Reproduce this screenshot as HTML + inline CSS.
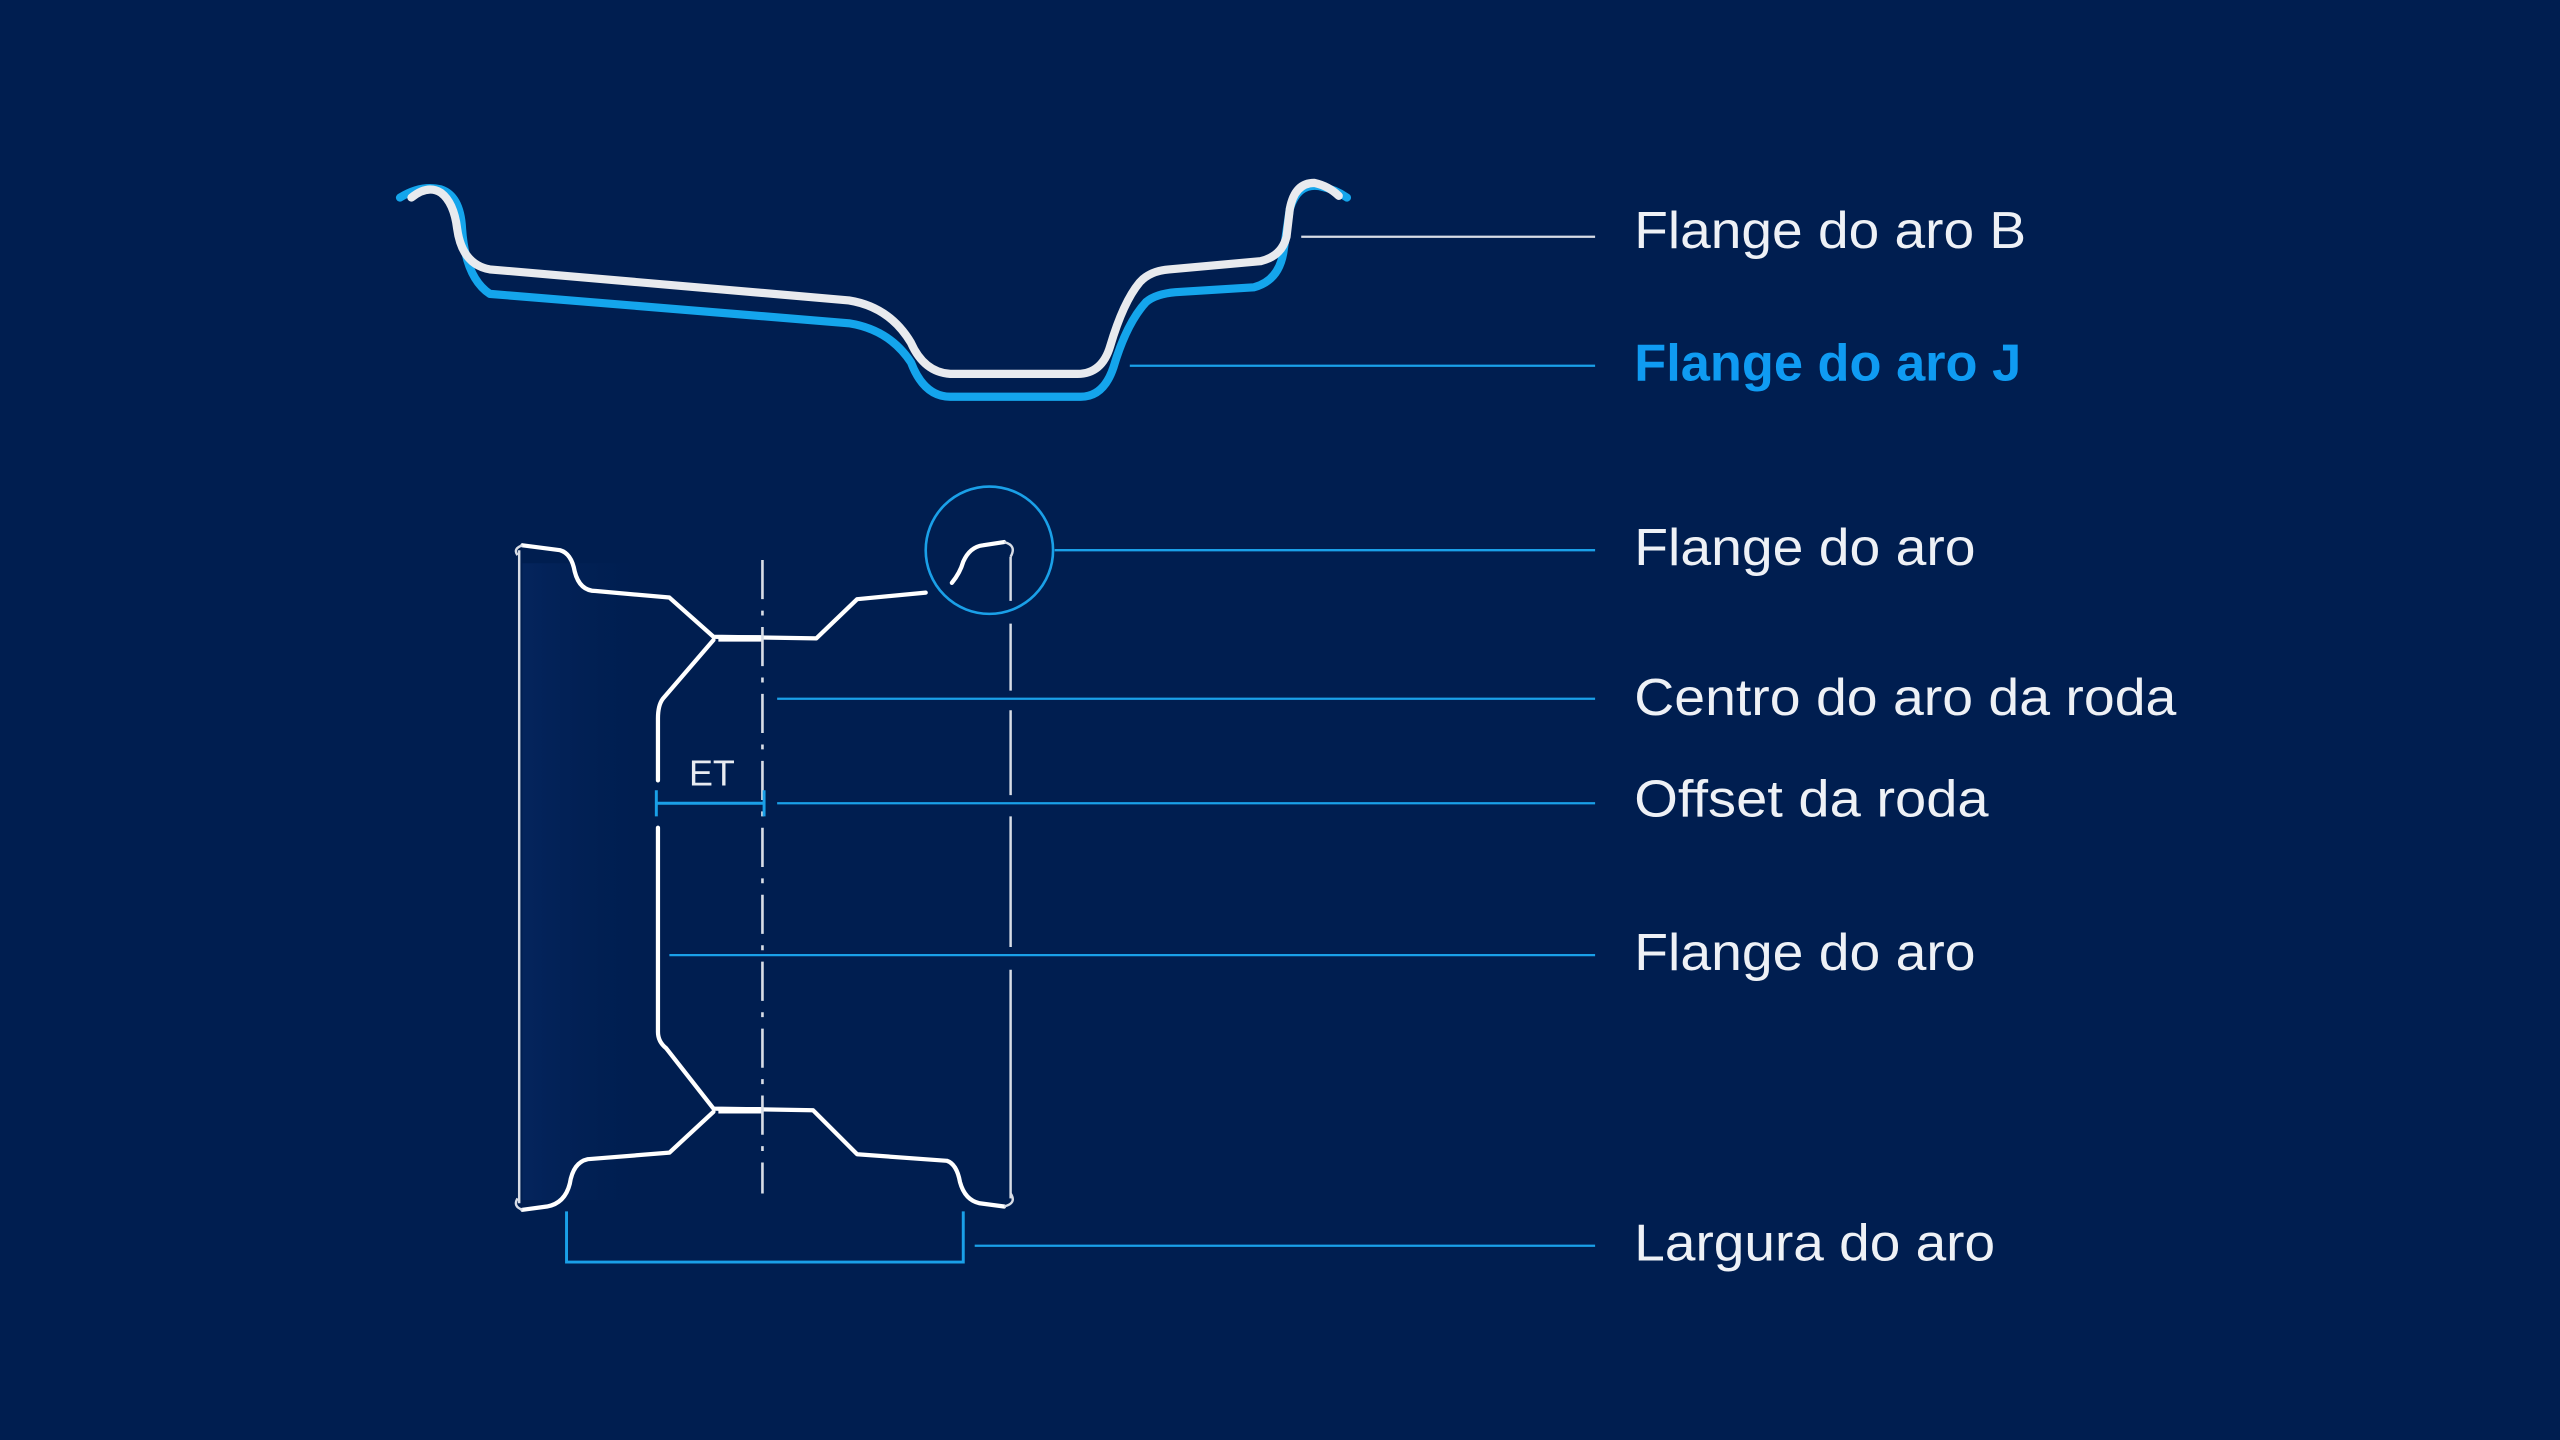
<!DOCTYPE html>
<html><head><meta charset="utf-8"><style>
html,body{margin:0;padding:0;background:#001e50;}
svg{display:block;}
text{font-family:"Liberation Sans",sans-serif;}
</style></head><body>
<svg width="2560" height="1440" viewBox="0 0 1568 882" xmlns="http://www.w3.org/2000/svg">
<defs>
<linearGradient id="g" x1="0" x2="1" y1="0" y2="0">
<stop offset="0" stop-color="#062762" stop-opacity="0.7"/>
<stop offset="1" stop-color="#001e50" stop-opacity="0"/>
</linearGradient>
</defs>
<rect width="1568" height="882" fill="#001e50"/>
<rect x="320" y="345" width="85" height="390" fill="url(#g)"/>

<path d="M245 121 Q258 113 270 116 Q282 120 283 140 Q285 170 300 180 L520 198 Q545 202 558 222 Q566 243 582 243 L662 243 Q676 243 682 225 Q690 198 702 185 Q708 180 720 179 L768 176 Q783 172 786 155 L790 128 Q795 112 808 114 Q818 116 825 121" fill="none" stroke="#14a5ec" stroke-width="5" stroke-linecap="round" stroke-linejoin="round"/>
<path d="M252 121 Q262 113 270 118 Q278 124 280 140 Q283 162 300 165 L520 184 Q545 188 558 210 Q566 228 582 229 L660 229 Q675 229 680 212 Q688 185 698 173 Q704 166 716 165 L772 160 Q785 157 788 145 L790 128 Q793 112 805 112 Q814 114 820 120" fill="none" stroke="#e8eaee" stroke-width="5" stroke-linecap="round" stroke-linejoin="round"/>

<g fill="none" stroke="#ffffff" stroke-width="2.6" stroke-linecap="round" stroke-linejoin="round">
<path d="M320 334 L343 337 Q350 339 352 350 Q355 362 365 362 L410 366 L437 390 L500 391 L525 367 L567 363"/>
<path d="M437 392 L406 428 Q403 432 403 440 L403 478"/>
<path d="M403 507 L403 632 Q403 638 408 642 L437 679 L498 680 L525 707 L580 711 Q586 713 588 724 Q591 735 600 737 L615 739"/>
<path d="M437 681 L410 706 L360 710 Q351 712 349 725 Q346 737 335 739 L320 741"/>
<path d="M583 357 Q588 351 590 344 Q594 335 602 334 L615 332"/>
</g>
<path d="M440 391 L467 391 M440 680 L467 680" stroke="#fff" stroke-width="4"/>
<path d="M318 337 L318 737" stroke="#d8dde6" stroke-width="1.5"/>
<path d="M320 334 Q314 336 317 340 M320 741 Q314 739 317 734" stroke="#d8dde6" stroke-width="1.5" fill="none"/>
<path d="M619 341 L619 368 M619 382 L619 423 M619 435 L619 487 M619 500 L619 580 M619 594 L619 734" stroke="#d8dde6" stroke-width="1.5"/>
<path d="M615 332 Q623 334 619 341 M615 739 Q623 737 619 731" stroke="#d8dde6" stroke-width="1.5" fill="none"/>
<path d="M467 343 L467 731" stroke="#d8dde6" stroke-width="1.6" stroke-dasharray="24 7 3 7"/>
<circle cx="606" cy="337" r="39" fill="none" stroke="#1aa0e8" stroke-width="1.6"/>
<path d="M402 492 L468 492 M402 484 L402 500 M468 484 L468 500" stroke="#1aa0e8" stroke-width="1.8"/>
<text x="422" y="481" font-size="22" fill="#e8ecf2">ET</text>
<path d="M347 742 L347 773 L590 773 L590 742" fill="none" stroke="#1aa0e8" stroke-width="1.8"/>

<path d="M797 145 L977 145" stroke="#d8dde6" stroke-width="1.4"/>
<g stroke="#1aa0e8" stroke-width="1.4">
<path d="M692 224 L977 224"/>
<path d="M646 337 L977 337"/>
<path d="M476 428 L977 428"/>
<path d="M476 492 L977 492"/>
<path d="M410 585 L977 585"/>
<path d="M597 763 L977 763"/>
</g>

<g font-size="32" fill="#eef1f6">
<text x="1001" y="152" textLength="240" lengthAdjust="spacingAndGlyphs">Flange do aro B</text>
<text x="1001" y="233" textLength="237" lengthAdjust="spacingAndGlyphs" font-weight="bold" fill="#0f9bf2">Flange do aro J</text>
<text x="1001" y="346" textLength="209" lengthAdjust="spacingAndGlyphs">Flange do aro</text>
<text x="1001" y="438" textLength="332" lengthAdjust="spacingAndGlyphs">Centro do aro da roda</text>
<text x="1001" y="500" textLength="217" lengthAdjust="spacingAndGlyphs">Offset da roda</text>
<text x="1001" y="594" textLength="209" lengthAdjust="spacingAndGlyphs">Flange do aro</text>
<text x="1001" y="772" textLength="221" lengthAdjust="spacingAndGlyphs">Largura do aro</text>
</g>
</svg>
</body></html>
